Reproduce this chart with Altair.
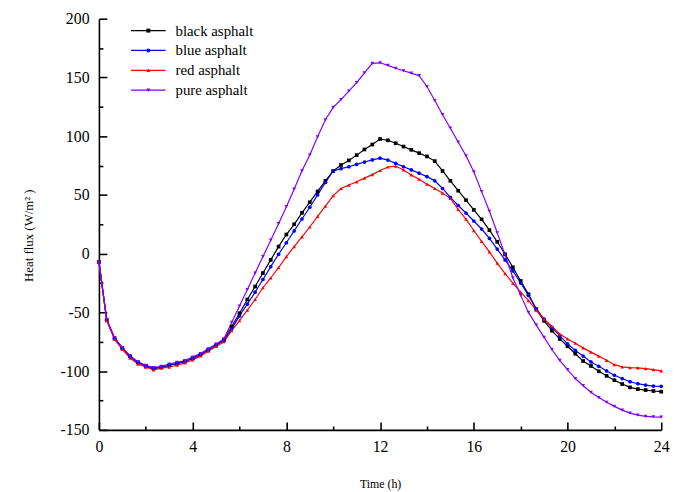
import altair as alt
import pandas as pd

series_names = ["black asphalt", "blue asphalt", "red asphalt", "pure asphalt"]
series_colors = ["#000000", "#0000ff", "#ff0000", "#8000ff"]
series_shapes = ["square", "circle", "triangle-up", "triangle-down"]

# time in hours, one reading every 20 minutes
time_h = [i * 20 / 60 for i in range(73)]

black = [-7, -56.5, -72, -80.5, -87.5, -92.5, -95.5, -97.5, -96.5, -95, -93.5, -91.7, -89, -86, -82, -78, -73.5, -62,
         -50.7, -39, -28, -16.5, -5.3, 6, 16.3, 25, 34.8, 43.8, 53, 62,
         70.4, 75.5, 79.4, 83.9, 88.7, 92.9, 97.6, 96.5, 94, 91.2, 88.4, 85.6, 82.8, 78.8, 70.4, 62, 53.6, 45.5,
         37.3, 29.2, 20, 10.1, -0.5, -11.6, -23.2, -34.5, -47.4, -57.2, -65.6, -72.6, -78.8, -85.2, -91.4, -95.6,
         -100.1, -104, -107.7, -111, -113.8, -115.3, -116.1, -116.9, -117.5]
blue = [-7, -56.5, -72, -80.5, -87.5, -93, -96, -98, -96.5, -95, -93.5, -92, -89, -86, -82, -78, -74, -64,
        -53, -43, -32.8, -22, -11, -0.5, 9.3, 19.4, 29.5, 39.5, 50, 60.6,
        70.4, 72.4, 74, 76, 78, 79.8, 81.3, 79.7, 76.9, 74, 71.3, 68.5, 65.6, 62, 55.5, 48, 41, 34.6,
        27.8, 21, 13, 3.9, -5.3, -14.7, -25, -35.5, -47, -55.8, -62.8, -69.8, -76.8, -82.4, -87.2, -92.2,
        -95.9, -99.8, -103.5, -106.3, -109, -110.7, -111.9, -112.7, -112.9]
red = [-7, -57, -73, -81.5, -89, -94, -96.5, -99, -97.5, -96.5, -95, -93, -90.5, -87, -83, -79, -75, -65.5,
       -57, -48, -39, -29, -20.7, -11.8, -2.5, 5.9, 14.3, 22.7, 31.7, 40.4,
       49.4, 55.5, 58.4, 61.2, 64.3, 67.3, 70.8, 73.8, 74.6, 71.3, 67, 63.4, 59.2, 55.5, 51.6, 47.1, 37.6, 29.4,
       19.7, 10.4, 1.5, -8.1, -17, -25, -32.8, -40, -48, -55.8, -62, -68.4, -72.6, -76.2, -80.2, -83.8,
       -87.2, -90.8, -94.5, -96.4, -97, -97.3, -97.8, -98.7, -99.8]
pure = [-7, -56, -71.5, -80, -87, -92, -95, -97, -96, -94, -92.5, -91, -88, -85, -81, -77, -72.5, -58.5,
        -44.6, -30.5, -16.5, -2.5, 11.5, 25.5, 40, 55, 70.5, 84, 99.5, 114,
        124.5, 131.2, 138.3, 145.6, 154, 162, 162.5, 160.3, 157.8, 155.7, 153.7, 151.5, 142.3, 130.4, 118.3, 106.8, 95, 83.3,
        69.7, 52.8, 36.1, 17.8, -1, -20.5, -35.5, -50, -60.8, -71.2, -81.6, -90.8, -98.7, -106.3, -112.4, -118,
        -122.5, -126.5, -130, -133.2, -135.7, -137.4, -138.5, -139, -139.2]

x_ticks = list(range(0, 25, 2))
y_ticks = list(range(-150, 201, 25))

rows = []
for name, vals in zip(series_names, [black, blue, red, pure]):
    for t, v in zip(time_h, vals):
        rows.append({"time": t, "flux": v, "series": name})
df = pd.DataFrame(rows)

FONT = "Liberation Serif"
PLOT_W, PLOT_H = 569, 416

common_legend = dict(
    title=None, orient="none", legendX=42.5, legendY=4.5, padding=0,
    labelFont=FONT, labelFontSize=15, labelColor="black", labelOffset=20,
    rowPadding=4.1, symbolSize=16,
)
line_legend = alt.Legend(symbolType="M-8.75,0H8.75", symbolStrokeWidth=1.2, **common_legend)
point_legend = alt.Legend(labelOpacity=0, **common_legend)

# x grid lines run from the top edge down: dash pattern puts the tick at the bottom
x_axis = alt.Axis(
    values=x_ticks, labelExpr="datum.value % 4 === 0 ? '' + datum.value : ''",
    ticks=False, domainColor="black", domainWidth=1.6,
    grid=True, gridColor="black", gridWidth=1.6, gridOpacity=1,
    gridDash={"condition": {"test": "datum.value % 4 === 0", "value": [0, PLOT_H - 8, 8, 3000]},
              "value": [0, PLOT_H - 4, 4, 3000]},
    labelFont=FONT, labelFontSize=16, labelColor="black", labelPadding=9, labelFlush=False,
    title="Time (h)", titleFont=FONT, titleFontSize=12, titleFontWeight="normal", titleColor="black",
    titleY=49,
)
y_axis = alt.Axis(
    values=y_ticks, labelExpr="datum.value % 50 === 0 ? '' + datum.value : ''",
    ticks=False, domainColor="black", domainWidth=1.6,
    grid=True, gridColor="black", gridWidth=1.6, gridOpacity=1,
    gridDash={"condition": {"test": "datum.value % 50 === 0", "value": [8, 3000]}, "value": [4, 3000]},
    labelFont=FONT, labelFontSize=16, labelColor="black", labelPadding=10, labelFlush=False,
    title="Heat flux (W/m² )", titleFont=FONT, titleFontSize=13, titleFontWeight="normal", titleColor="black",
    titleX=-64, titleY=219, titleAlign="center", titleBaseline="bottom", titleAngle=270,
)

x_enc = alt.X("time:Q", scale=alt.Scale(domain=[0, 24], nice=False), axis=x_axis)
y_enc = alt.Y("flux:Q", scale=alt.Scale(domain=[-150, 200], nice=False), axis=y_axis)
color_scale = alt.Scale(domain=series_names, range=series_colors)

lines = alt.Chart(df).mark_line(strokeWidth=1.2).encode(
    x=x_enc, y=y_enc,
    color=alt.Color("series:N", scale=color_scale, legend=line_legend),
)
points = alt.Chart(df).mark_point(filled=True, size=14, opacity=1).encode(
    x=x_enc, y=y_enc,
    color=alt.Color("series:N", scale=color_scale, legend=point_legend),
    shape=alt.Shape("series:N", scale=alt.Scale(domain=series_names, range=series_shapes), legend=point_legend),
)

chart = alt.layer(lines, points).resolve_legend(
    color="independent", shape="independent"
).properties(
    width=PLOT_W, height=PLOT_H,
    padding={"left": 92, "top": 8, "right": 22, "bottom": 60},
    autosize=alt.AutoSizeParams(type="none"),
).configure_view(stroke=None)

chart.save("out.html", embed_options={"renderer": "svg", "actions": False})
